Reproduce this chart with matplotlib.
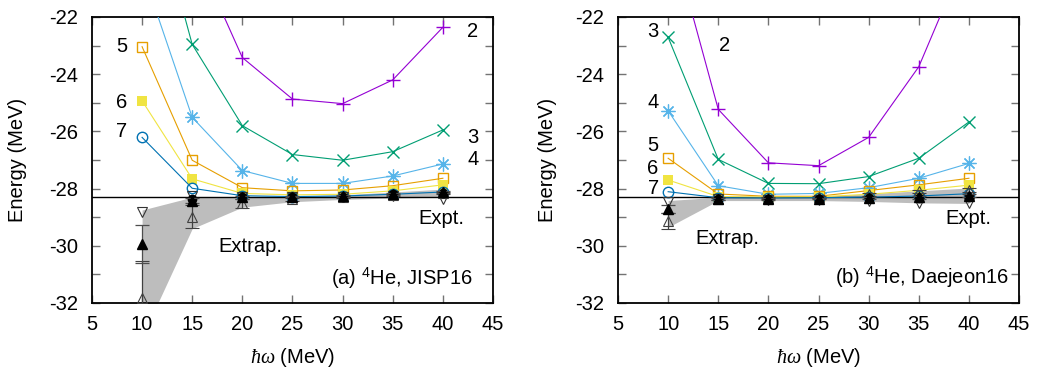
import numpy as np
import matplotlib
matplotlib.use("Agg")
import matplotlib.pyplot as plt
from matplotlib.ticker import MultipleLocator

plt.rcParams['font.family'] = ['Liberation Sans', 'DejaVu Sans']
plt.rcParams['axes.unicode_minus'] = False
plt.rcParams['mathtext.fontset'] = 'custom'
plt.rcParams['mathtext.rm'] = 'Liberation Sans'
plt.rcParams['mathtext.it'] = 'Liberation Serif:italic'

hw = [10, 15, 20, 25, 30, 35, 40]
expt = -28.296

# (a) JISP16, by Nmax
jisp_n2 = [-10.0, -19.5, -23.42, -24.87, -25.03, -24.20, -22.36]
jisp_n3 = [-16.5, -22.96, -25.80, -26.81, -27.01, -26.71, -25.95]
jisp_n4 = [-20.35, -25.51, -27.37, -27.82, -27.82, -27.56, -27.14]
jisp_n5 = [-23.04, -27.01, -27.97, -28.08, -28.05, -27.90, -27.64]
jisp_n6 = [-24.93, -27.66, -28.17, -28.22, -28.20, -28.08, -27.87]
jisp_n7 = [-26.21, -27.99, -28.25, -28.28, -28.26, -28.20, -28.12]
jisp_ext = [-29.95, -28.42, -28.30, -28.28, -28.25, -28.20, -28.13]
jisp_ext_err = [0.67, 0.08, 0.05, 0.03, 0.03, 0.03, 0.03]
jisp_ext_dn = [-28.81, -28.26, -28.30, -28.30, -28.28, -28.26, -28.35]
jisp_ext_up = [-31.84, -28.98, -28.52, -28.38, -28.30, -28.22, -28.15]
jisp_ext_up_err = [1.3, 0.40, 0.15, 0.06, 0.04, 0.04, 0.04]
jisp_ext_dot = [np.nan, -28.35, -28.30, -28.30, -28.28, -28.20, -28.15]
jisp_band_hi = [-28.75, -28.30, -28.28, -28.26, -28.22, -28.12, -28.02]
jisp_band_lo = [-33.2, -29.40, -28.65, -28.46, -28.38, -28.33, -28.30]

# (b) Daejeon16, by Nmax
dj_n2 = [-18.8, -25.23, -27.10, -27.20, -26.21, -23.74, -19.6]
dj_n3 = [-22.71, -26.98, -27.82, -27.83, -27.58, -26.94, -25.67]
dj_n4 = [-25.28, -27.90, -28.20, -28.17, -27.97, -27.64, -27.12]
dj_n5 = [-26.94, -28.19, -28.27, -28.27, -28.07, -27.87, -27.64]
dj_n6 = [-27.70, -28.28, -28.30, -28.29, -28.20, -28.06, -27.88]
dj_n7 = [-28.11, -28.32, -28.33, -28.32, -28.30, -28.26, -28.18]
dj_ext = [-28.72, -28.36, -28.36, -28.35, -28.33, -28.30, -28.25]
dj_ext_err = [0.15, 0.04, 0.03, 0.03, 0.03, 0.05, 0.05]
dj_ext_dn = [-28.46, -28.38, -28.40, -28.40, -28.42, -28.50, -28.50]
dj_ext_up = [-29.13, -28.35, -28.33, -28.30, -28.20, -28.10, -28.05]
dj_ext_up_err = [0.28, 0.05, 0.04, 0.04, 0.05, 0.06, 0.06]
dj_ext_dot = [np.nan, -28.37, -28.37, -28.36, -28.34, -28.33, -28.30]
dj_band_hi = [-28.42, -28.30, -28.30, -28.28, -28.18, -28.08, -27.98]
dj_band_lo = [-29.35, -28.42, -28.42, -28.42, -28.45, -28.50, -28.52]

colors = ['#9400d3', '#009e73', '#56b4e9', '#e69f00', '#f0e442', '#0072b2']
fs = 14.5


def draw_panel(ax, series, ext, ext_err, ext_dn, ext_up, ext_up_err, ext_dot,
               band_hi, band_lo, ylab_x):
    ax.fill_between(hw, band_lo, band_hi, color='#bdbdbd', lw=0, zorder=1)
    ax.axhline(expt, color='black', lw=1.0, zorder=2)

    styles = [
        dict(marker='+', ms=10, mew=1.0),
        dict(marker='x', ms=8, mew=1.0),
        dict(marker=(8, 2, 0), ms=10, mew=0.9),
        dict(marker='s', ms=7.5, mfc='none', mew=1.0),
        dict(marker='s', ms=7.5, mew=0),
        dict(marker='o', ms=7.5, mfc='none', mew=1.0),
    ]
    for vals, c, st in zip(series, colors, styles):
        ax.plot(hw, vals, color=c, lw=0.8, zorder=3, **st)

    ax.errorbar(hw, ext_up, yerr=ext_up_err, fmt='^', color='0.25', mfc='none',
                ms=7, mew=0.8, elinewidth=0.9, capsize=5, capthick=0.9, zorder=4)
    ax.plot(hw, ext_dn, 'v', color='0.2', mfc='none', ms=6.5, mew=0.8, zorder=4)
    ax.plot(hw, ext_dot, 'o', color='black', ms=6, zorder=5)
    ax.errorbar(hw, ext, yerr=ext_err, fmt='^', color='black', ms=7,
                elinewidth=0.9, ecolor='0.3', capsize=5, capthick=0.9, zorder=5)

    ax.set_xlim(5, 45)
    ax.set_ylim(-32, -22)
    ax.xaxis.set_major_locator(MultipleLocator(5))
    ax.yaxis.set_major_locator(MultipleLocator(2))
    ax.yaxis.set_minor_locator(MultipleLocator(1))
    ax.tick_params(which='both', direction='in', top=True, right=True,
                   length=6, width=1.0, color='0.45', labelsize=fs)
    ax.tick_params(axis='y', which='both', pad=10)
    ax.tick_params(axis='x', which='both', pad=9)
    for s in ax.spines.values():
        s.set_linewidth(1.3)
    ax.set_xlabel(r'$\hbar\omega$ (MeV)', fontsize=fs)
    ax.set_ylabel('Energy (MeV)', fontsize=fs)
    ax.xaxis.set_label_coords(0.5, -0.15)
    ax.yaxis.set_label_coords(ylab_x, 0.5)
    ax.yaxis.label.set_va('center')


fig = plt.figure(figsize=(10.39, 3.69), dpi=100)
ax1 = fig.add_axes([0.0885, 0.179, 0.386, 0.775])
ax2 = fig.add_axes([0.5948, 0.179, 0.386, 0.775])

draw_panel(ax1, [jisp_n2, jisp_n3, jisp_n4, jisp_n5, jisp_n6, jisp_n7],
           jisp_ext, jisp_ext_err, jisp_ext_dn, jisp_ext_up, jisp_ext_up_err,
           jisp_ext_dot, jisp_band_hi, jisp_band_lo, -0.185)
draw_panel(ax2, [dj_n2, dj_n3, dj_n4, dj_n5, dj_n6, dj_n7],
           dj_ext, dj_ext_err, dj_ext_dn, dj_ext_up, dj_ext_up_err,
           dj_ext_dot, dj_band_hi, dj_band_lo, -0.175)

# panel (a) labels
for txt, x, y in [('5', 8.0, -23.04), ('6', 8.0, -25.0), ('7', 8.0, -26.0),
                  ('2', 43.0, -22.5), ('3', 43.0, -26.2), ('4', 43.0, -27.0)]:
    ax1.text(x, y, txt, fontsize=fs, ha='center', va='center')
ax1.text(39.9, -29.03, 'Expt.', fontsize=fs, ha='center', va='center')
ax1.text(20.8, -30.03, 'Extrap.', fontsize=fs, ha='center', va='center')
ax1.text(43.0, -31.13, '(a) $^4$He, JISP16', fontsize=fs, ha='right', va='center')

# panel (b) labels
for txt, x, y in [('3', 8.5, -22.5), ('2', 15.6, -23.0), ('4', 8.5, -25.0),
                  ('5', 8.5, -26.5), ('6', 8.5, -27.3), ('7', 8.5, -28.0)]:
    ax2.text(x, y, txt, fontsize=fs, ha='center', va='center')
ax2.text(39.9, -29.03, 'Expt.', fontsize=fs, ha='center', va='center')
ax2.text(15.9, -29.73, 'Extrap.', fontsize=fs, ha='center', va='center')
ax2.text(44.0, -31.12, '(b) $^4$He, Daejeon16', fontsize=fs, ha='right', va='center')

fig.savefig('out.png', dpi=100)
